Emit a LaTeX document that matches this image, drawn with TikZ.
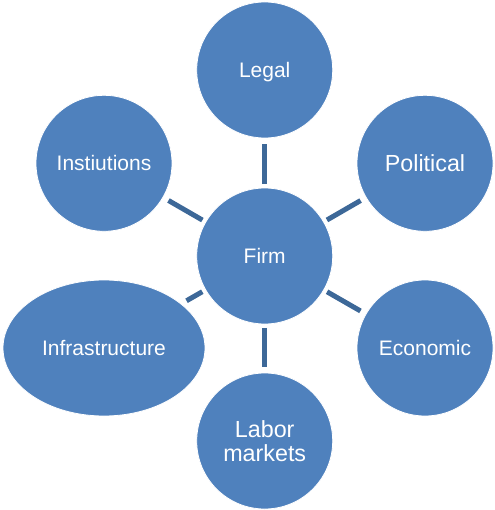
\documentclass[tikz,border=0pt]{standalone}
\usepackage{fontspec}
\setmainfont{Liberation Sans}
\usetikzlibrary{shapes.geometric}
\definecolor{bubble}{HTML}{4F81BD}
\definecolor{spoke}{HTML}{3D6898}
\begin{document}
\begin{tikzpicture}[x=1pt,y=-1pt,
  bubblebase/.style={fill=bubble,draw=white,line width=0.8pt,text=white,
    inner sep=0pt,align=center},
  circ/.style={bubblebase,circle,minimum size=136pt,font=\fontsize{21}{24}\selectfont,
    text height=15pt,text depth=0pt},
  bigcirc/.style={bubblebase,circle,minimum size=136pt,font=\fontsize{23.3}{24.5}\selectfont},
  oval/.style={bubblebase,ellipse,minimum width=202pt,minimum height=136pt,
    font=\fontsize{21}{24}\selectfont,text height=15pt,text depth=0pt},
  spokeline/.style={draw=spoke,line width=5pt,shorten <=3.5pt,shorten >=6pt}]
  \useasboundingbox (0,0) rectangle (494,510);

  \node[circ]    (firm)   at (264.7,256)   {Firm};
  \node[circ]    (legal)  at (264.7,70)    {Legal};
  \node[bigcirc] (pol)    at (425,163.3)   {Political};
  \node[circ]    (econ)   at (425,348)     {Economic};
  \node[bigcirc] (labor)  at (264.7,441)   {Labor\\markets};
  \node[oval]    (infra)  at (104,348)     {Infrastructure};
  \node[circ]    (inst)   at (104,163.3)   {Instiutions};

  \foreach \n in {legal,pol,econ,labor,infra,inst}
    \draw[spokeline] (firm) -- (\n);
\end{tikzpicture}
\end{document}
